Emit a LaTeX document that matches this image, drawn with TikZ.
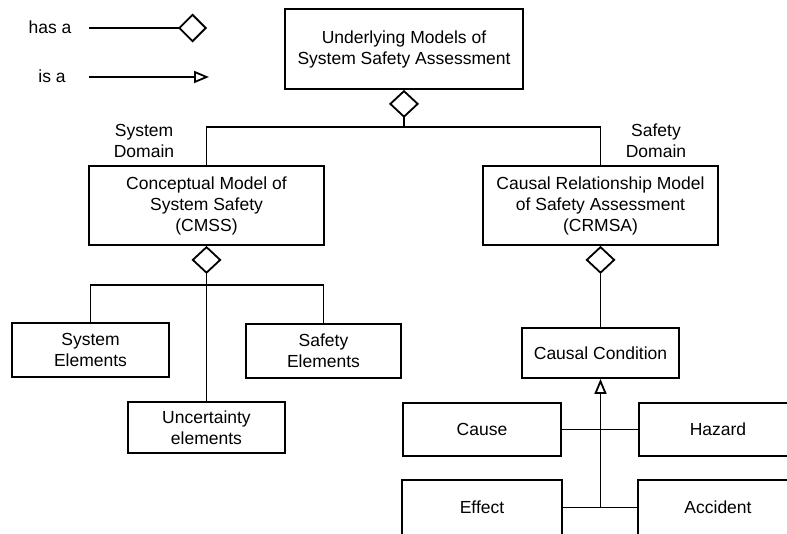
\documentclass[tikz,border=0pt]{standalone}
\usepackage{fontspec}
\setmainfont{Liberation Sans}
\usetikzlibrary{arrows.meta}
\begin{document}
\begin{tikzpicture}[x=1pt,y=-1pt,line width=1.8pt,
  box/.style={draw,rectangle,align=center,inner sep=0pt,font=\fontsize{17.5}{21}\selectfont},
  lbl/.style={align=center,inner sep=0pt,font=\fontsize{17.5}{21}\selectfont},
  hasa/.style={{Diamond[open,length=28pt,width=30pt]}-},
  isa/.style={-{Triangle[open,length=15pt,width=12pt]}}]
\clip (0,0) rectangle (787,533);
% legend
\node[lbl] (hasalbl) at (50,27) {has a};
\node[lbl] (isalbl) at (52,76) {is a};
\coordinate (h1) at (89,28);
\coordinate (h2) at (207,28);
\coordinate (i1) at (89,77);
\coordinate (i2) at (209,77);
\draw[-{Diamond[open,length=29pt,width=29pt]}] (h1) -- (h2);
\draw[isa] (i1) -- (i2);
% boxes
\node[box,minimum width=238pt,minimum height=80pt] (top) at (404,49) {Underlying Models of\\System Safety Assessment};
\node[box,minimum width=235pt,minimum height=79pt] (cmss) at (206.5,205.5) {Conceptual Model of\\System Safety\\(CMSS)};
\node[box,minimum width=235pt,minimum height=79pt] (crmsa) at (600.5,205.5) {Causal Relationship Model\\of Safety Assessment\\(CRMSA)};
\node[lbl] (sysdom) at (144,141) {System\\Domain};
\node[lbl] (safdom) at (656,141) {Safety\\Domain};
\node[box,minimum width=157pt,minimum height=54pt] (syselem) at (90.5,350) {System\\Elements};
\node[box,minimum width=155pt,minimum height=54pt] (safelem) at (323.5,351) {Safety\\Elements};
\node[box,minimum width=157pt,minimum height=51pt] (uncert) at (206.5,427.5) {Uncertainty\\elements};
\node[box,minimum width=157pt,minimum height=50pt] (causal) at (600.5,353) {Causal Condition};
\node[box,minimum width=158pt,minimum height=53pt] (cause) at (482,429.5) {Cause};
\node[box,minimum width=158pt,minimum height=53pt] (hazard) at (718,429.5) {Hazard};
\node[box,draw=none,minimum width=158pt,minimum height=53pt] (effect) at (482,507.5) {Effect};
\node[box,draw=none,minimum width=158pt,minimum height=53pt] (accident) at (718,507.5) {Accident};
\draw (effect.north west) rectangle ([yshift=-20pt]effect.south east);
\draw (accident.north west) rectangle ([yshift=-20pt]accident.south east);
% connectors
\coordinate (j1) at (404,127);
\draw[hasa] (top.south) -- (j1) -| (cmss.north);
\draw (j1) -| (crmsa.north);
\coordinate (j2) at (206.5,285);
\draw[hasa] (cmss.south) -- (j2) -| (syselem.north);
\draw (j2) -| (safelem.north);
\draw (j2) -- (uncert.north);
\draw[hasa] (crmsa.south) -- (crmsa.south |- causal.north);
\draw (cause.east) -- (hazard.west);
\draw (effect.east) -- (accident.west);
\coordinate (j3) at (600.5,507.5);
\draw[isa] (j3) -- (causal.south);
\end{tikzpicture}
\end{document}
